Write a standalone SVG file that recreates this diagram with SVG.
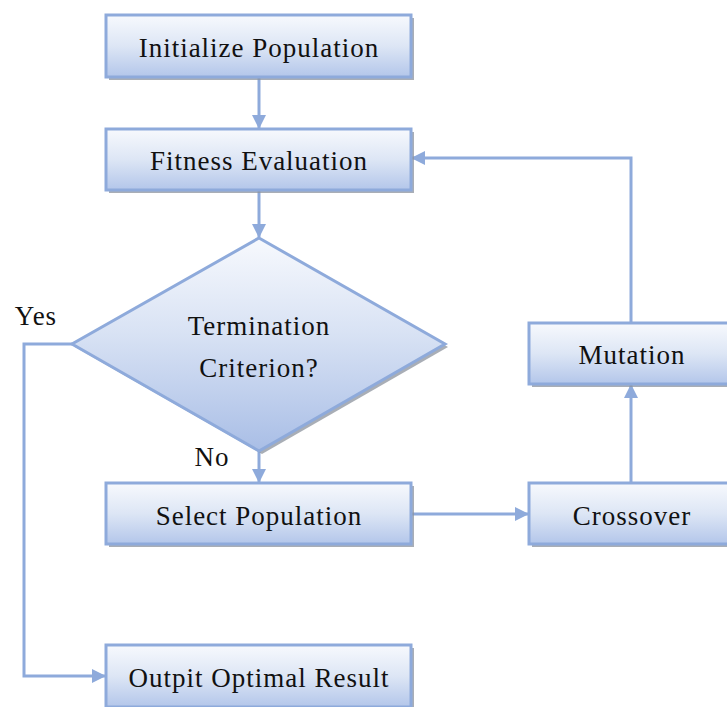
<svg xmlns="http://www.w3.org/2000/svg" width="727" height="707" viewBox="0 0 727 707">
  <defs>
    <linearGradient id="boxFill" x1="0" y1="0" x2="0" y2="1">
      <stop offset="0" stop-color="#f7f9fd"/>
      <stop offset="0.5" stop-color="#dde6f5"/>
      <stop offset="1" stop-color="#b3c6ea"/>
    </linearGradient>
    <linearGradient id="diaFill" x1="0" y1="0" x2="0" y2="1">
      <stop offset="0" stop-color="#f7f9fd"/>
      <stop offset="0.45" stop-color="#d8e2f4"/>
      <stop offset="1" stop-color="#a9bee6"/>
    </linearGradient>
    <marker id="arrow" markerWidth="14" markerHeight="14" viewBox="0 0 14 14" refX="13" refY="7" orient="auto" markerUnits="userSpaceOnUse">
      <path d="M0,0 L14,7 L0,14 Z" fill="#8eaadb"/>
    </marker>
  </defs>
  <style>
    .shadow { fill: #8c939e; opacity: 0.75; }
    .box { fill: url(#boxFill); stroke: #8eaadb; stroke-width: 3; }
    .dia { fill: url(#diaFill); stroke: #8eaadb; stroke-width: 3; stroke-linejoin: miter; }
    .label { font-family: "Liberation Serif", "DejaVu Serif", serif; font-size: 27px; letter-spacing: 1px; fill: #111; text-anchor: middle; }
    .link { fill: none; stroke: #8eaadb; stroke-width: 3; }
  </style>

  <rect width="727" height="707" fill="#ffffff"/>

  <!-- connectors -->
  <g id="connectors">
    <path class="link" d="M259,78 L259,128" marker-end="url(#arrow)"/>
    <path class="link" d="M259,191 L259,237" marker-end="url(#arrow)"/>
    <path class="link" d="M259,452 L259,482" marker-end="url(#arrow)"/>
    <path class="link" d="M412,514 L528,514" marker-end="url(#arrow)"/>
    <path class="link" d="M631,483 L631,385" marker-end="url(#arrow)"/>
    <path class="link" d="M631,323 L631,158 L412,158" marker-end="url(#arrow)"/>
    <path class="link" d="M72,344 L24,344 L24,676 L105,676" marker-end="url(#arrow)"/>
  </g>

  <g id="init">
    <rect class="shadow" x="109" y="18" width="305" height="62"/>
    <rect class="box" x="106" y="15" width="305" height="62"/>
    <text class="label" x="259" y="57">Initialize Population</text>
  </g>

  <g id="fitness">
    <rect class="shadow" x="109" y="132" width="305" height="61"/>
    <rect class="box" x="106" y="129" width="305" height="61"/>
    <text class="label" x="259" y="170">Fitness Evaluation</text>
  </g>

  <g id="termination">
    <polygon class="shadow" points="262,241 448,347 262,454 75,347"/>
    <polygon class="dia" points="259,238 445,344 259,451 72,344"/>
    <text class="label" x="259" y="335">Termination</text>
    <text class="label" x="259" y="377">Criterion?</text>
  </g>

  <g id="select">
    <rect class="shadow" x="109" y="486" width="305" height="61"/>
    <rect class="box" x="106" y="483" width="305" height="61"/>
    <text class="label" x="259" y="525">Select Population</text>
  </g>

  <g id="crossover">
    <rect class="shadow" x="532" y="486" width="210" height="61"/>
    <rect class="box" x="529" y="483" width="210" height="61"/>
    <text class="label" x="632" y="525">Crossover</text>
  </g>

  <g id="mutation">
    <rect class="shadow" x="532" y="326" width="210" height="61"/>
    <rect class="box" x="529" y="323" width="210" height="61"/>
    <text class="label" x="632" y="364">Mutation</text>
  </g>

  <g id="output">
    <rect class="shadow" x="109" y="648" width="305" height="62"/>
    <rect class="box" x="106" y="645" width="305" height="62"/>
    <text class="label" x="259" y="687">Outpit Optimal Result</text>
  </g>

  <g id="branch-labels">
    <text class="label" x="36" y="325">Yes</text>
    <text class="label" x="212" y="466">No</text>
  </g>
</svg>
